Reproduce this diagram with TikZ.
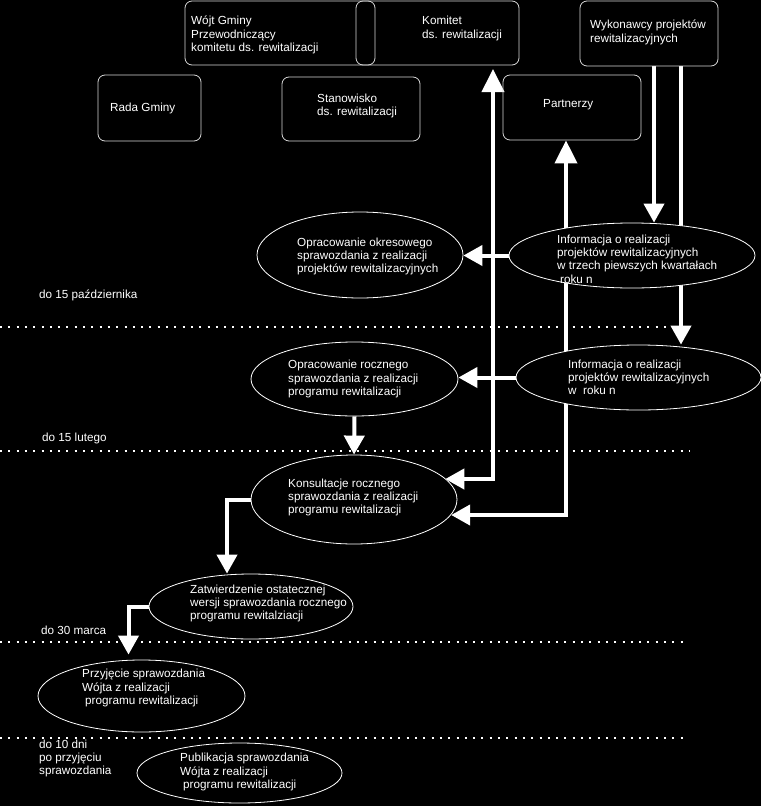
\documentclass[tikz,border=0pt]{standalone}
\usepackage{fontspec}
\setmainfont{Liberation Sans}
\usetikzlibrary{arrows.meta,shapes.geometric}
\pgfdeclarelayer{bgfill}
\pgfdeclarelayer{lines}
\pgfsetlayers{bgfill,lines,main}
\definecolor{bordc}{RGB}{215,215,215}
\begin{document}
\begin{tikzpicture}[x=1pt,y=-1pt,
  txt/.style={font=\fontsize{11.7}{13.3}\selectfont, text=white, align=left, inner sep=0pt, anchor=west},
  box/.style={draw=bordc, line width=0.8pt, rounded corners=7pt, inner sep=0pt},
  ell/.style={ellipse, draw=white, line width=0.8pt, fill=black, inner sep=0pt},
  arr/.style={draw=white, line width=4pt, -{Triangle[length=19pt,width=20pt]}},
  arrboth/.style={draw=white, line width=4pt, {Triangle[length=19pt,width=20pt]}-{Triangle[length=23pt,width=22pt]}},
  dotline/.style={draw=white, line width=2pt, dash pattern=on 2pt off 6.3pt}
]
\useasboundingbox (0,0) rectangle (761,806);
\begin{pgfonlayer}{bgfill}
\fill[black] (0,0) rectangle (761,806);
\end{pgfonlayer}

% boxes
\node[box, minimum width=190pt, minimum height=64pt] (wojt) at (280,33) {};
\node[box, minimum width=163pt, minimum height=64pt] (komitet) at (437.5,33) {};
\node[box, minimum width=138pt, minimum height=65pt] (wyk) at (649,33.5) {};
\node[box, minimum width=103pt, minimum height=66pt] (rada) at (149.5,108) {};
\node[box, minimum width=138pt, minimum height=64pt] (stan) at (351,109) {};
\node[box, minimum width=138pt, minimum height=65pt] (partn) at (572,107.5) {};

\node[txt] (wojt-t) at (191,35) {Wójt Gminy\\Przewodniczący\\komitetu ds. rewitalizacji};
\node[txt] (kom-t) at (422,28.5) {Komitet\\ds. rewitalizacji};
\node[txt] (wyk-t) at (590,32.5) {Wykonawcy projektów\\rewitalizacyjnych};
\node[txt] (rada-t) at (110,108) {Rada Gminy};
\node[txt] (stan-t) at (317,106) {Stanowisko\\ds. rewitalizacji};
\node[txt] (partn-t) at (543,105) {Partnerzy};

% ellipses
\node[ell, minimum width=206pt, minimum height=86pt] (okres) at (360,255) {};
\node[ell, minimum width=246pt, minimum height=65pt] (inf1) at (632,255.5) {};
\node[ell, minimum width=207pt, minimum height=74pt] (roczne) at (354.5,379) {};
\node[ell, minimum width=245pt, minimum height=65pt] (inf2) at (638.5,377.5) {};
\node[ell, minimum width=206pt, minimum height=89pt] (kons) at (354,499.5) {};
\node[ell, minimum width=204pt, minimum height=65pt] (zatw) at (251,606.5) {};
\node[ell, minimum width=207pt, minimum height=72pt] (przyj) at (141.5,696) {};
\node[ell, minimum width=205pt, minimum height=60pt] (publ) at (239.5,773) {};

\node[txt] (okres-t) at (297,256.5) {Opracowanie okresowego\\sprawozdania z realizacji\\projektów rewitalizacyjnych};
\node[txt] (inf1-t) at (557,259) {Informacja o realizacji\\projektów rewitalizacyjnych\\w trzech piewszych kwartałach\\\hspace*{3pt}roku n};
\node[txt] (roczne-t) at (288,379) {Opracowanie rocznego\\sprawozdania z realizacji\\programu rewitalizacji};
\node[txt] (inf2-t) at (568,377.5) {Informacja o realizacji\\projektów rewitalizacyjnych\\w\hspace{6.5pt}roku n};
\node[txt] (kons-t) at (288,497.5) {Konsultacje rocznego\\sprawozdania z realizacji\\programu rewitalizacji};
\node[txt] (zatw-t) at (190,603.5) {Zatwierdzenie ostatecznej\\wersji sprawozdania rocznego\\programu rewitalziacji};
\node[txt] (przyj-t) at (82,688) {Przyjęcie sprawozdania\\Wójta z realizacji\\\hspace*{3pt}programu rewitalizacji};
\node[txt] (publ-t) at (180,772) {Publikacja sprawozdania\\Wójta z realizacji\\\hspace*{3pt}programu rewitalizacji};

% deadline labels
\node[txt] (l1) at (39,295) {do 15 października};
\node[txt] (l2) at (42,438) {do 15 lutego};
\node[txt] (l3) at (41,630) {do 30 marca};
\node[txt] (l4) at (39,758.5) {do 10 dni\\po przyjęciu\\sprawozdania};

\coordinate (k1) at (493,479);
\coordinate (k2) at (493,69);
\coordinate (p1) at (566,515);

\begin{pgfonlayer}{lines}
% separators
\draw[dotline] (0,327) -- (688,327);
\draw[dotline] (0,451) -- (690,451);
\draw[dotline] (0,642) -- (686,642);
\draw[dotline] (0,738) -- (688,738);
% connectors
\draw[arrboth] (k1 -| kons.13) -- (k1) -- (k2);
\draw[arrboth] (p1 -| kons.-9) -- (p1) -- (p1 |- partn.south);
\draw[arr] ([xshift=5pt]wyk.south) -- ([xshift=5pt]wyk.south |- inf1.north);
\draw[arr] ([xshift=32pt]wyk.south) -- ([xshift=32pt]wyk.south |- inf2.north);
\draw[arr] (inf1.west) -- (inf1.west -| okres.east);
\draw[arr] (inf2.west) -- (inf2.west -| roczne.east);
\draw[arr] (roczne.south) -- (kons.north);
\draw[arr] (kons.west) -| ([xshift=-24pt]zatw.north);
\draw[arr] (zatw.west) -| ([xshift=-13pt,yshift=5pt]przyj.north);
\end{pgfonlayer}
\end{tikzpicture}
\end{document}
